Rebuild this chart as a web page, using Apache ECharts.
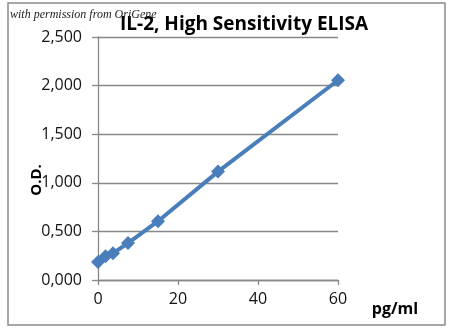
<!DOCTYPE html>
<html>
<head>
<meta charset="utf-8">
<script src="https://cdn.jsdelivr.net/npm/echarts@6/dist/echarts.min.js"></script>
<style>
html,body{margin:0;padding:0;background:#fff;}
#c{width:450px;height:336px;}
</style>
</head>
<body>
<div id="c"></div>
<script>
var concentrations = [0, 1.875, 3.75, 7.5, 15, 30, 60];
var odValues = [0.185, 0.245, 0.275, 0.38, 0.605, 1.115, 2.055];
var yTicks = [0, 0.5, 1, 1.5, 2, 2.5];
var xTicks = [0, 20, 40, 60];
var titleText = 'IL-2, High Sensitivity ELISA';
var yName = 'O.D.';
var xName = 'pg/ml';
var credit = 'with permission from OriGene';

var chart = echarts.init(document.getElementById('c'), null, {renderer: 'canvas'});
var pts = concentrations.map(function (x, i) { return [x, odValues[i]]; });
var font = '"Open Sans", sans-serif';
chart.setOption({
  animation: false,
  backgroundColor: '#fff',
  title: {
    text: titleText,
    left: 115, top: 10,
    textStyle: {fontFamily: font, fontWeight: 'bold', fontSize: 19, color: '#000'}
  },
  grid: {left: 98, right: 112, top: 37, bottom: 56, containLabel: false},
  xAxis: {
    type: 'value', min: xTicks[0], max: xTicks[xTicks.length - 1], interval: 20,
    axisLine: {show: true, lineStyle: {color: '#888', width: 1.3}},
    axisTick: {show: true, inside: false, length: 5, lineStyle: {color: '#888', width: 1.3}},
    splitLine: {show: false},
    axisLabel: {fontFamily: font, fontSize: 16, color: '#111', margin: 11}
  },
  yAxis: {
    type: 'value', min: yTicks[0], max: yTicks[yTicks.length - 1], interval: 0.5,
    axisLine: {show: true, lineStyle: {color: '#888', width: 1.3}},
    axisTick: {show: true, inside: false, length: 6, lineStyle: {color: '#888', width: 1.3}},
    splitLine: {show: true, lineStyle: {color: '#888', width: 1.3}},
    axisLabel: {
      fontFamily: font, fontSize: 16, color: '#111', margin: 16,
      formatter: function (v) { return v.toFixed(3).replace('.', ','); }
    }
  },
  series: [{
    type: 'line',
    data: pts,
    symbol: 'diamond',
    symbolSize: 14,
    showSymbol: true,
    lineStyle: {color: '#4A7EBB', width: 4},
    itemStyle: {color: '#4A7EBB'}
  }],
  graphic: [
    {type: 'rect', shape: {x: 8, y: 3, width: 437, height: 322},
     style: {fill: 'none', stroke: '#8a8a8a', lineWidth: 1.5}, z: -1},
    {type: 'text', x: 37, y: 180, rotation: Math.PI / 2,
     style: {text: yName, fontFamily: font, fontWeight: 'bold', fontSize: 15, fill: '#000',
             textAlign: 'center', textVerticalAlign: 'middle'}},
    {type: 'text', x: 395, y: 309,
     style: {text: xName, fontFamily: font, fontWeight: 'bold', fontSize: 16, fill: '#000',
             textAlign: 'center', textVerticalAlign: 'middle'}},
    {type: 'text', x: 10, y: 15,
     style: {text: credit, fontFamily: '"Liberation Serif", serif', fontStyle: 'italic', fontSize: 12, fill: '#222',
             textAlign: 'left', textVerticalAlign: 'middle'}, z: 10}
  ]
});
</script>
</body>
</html>
